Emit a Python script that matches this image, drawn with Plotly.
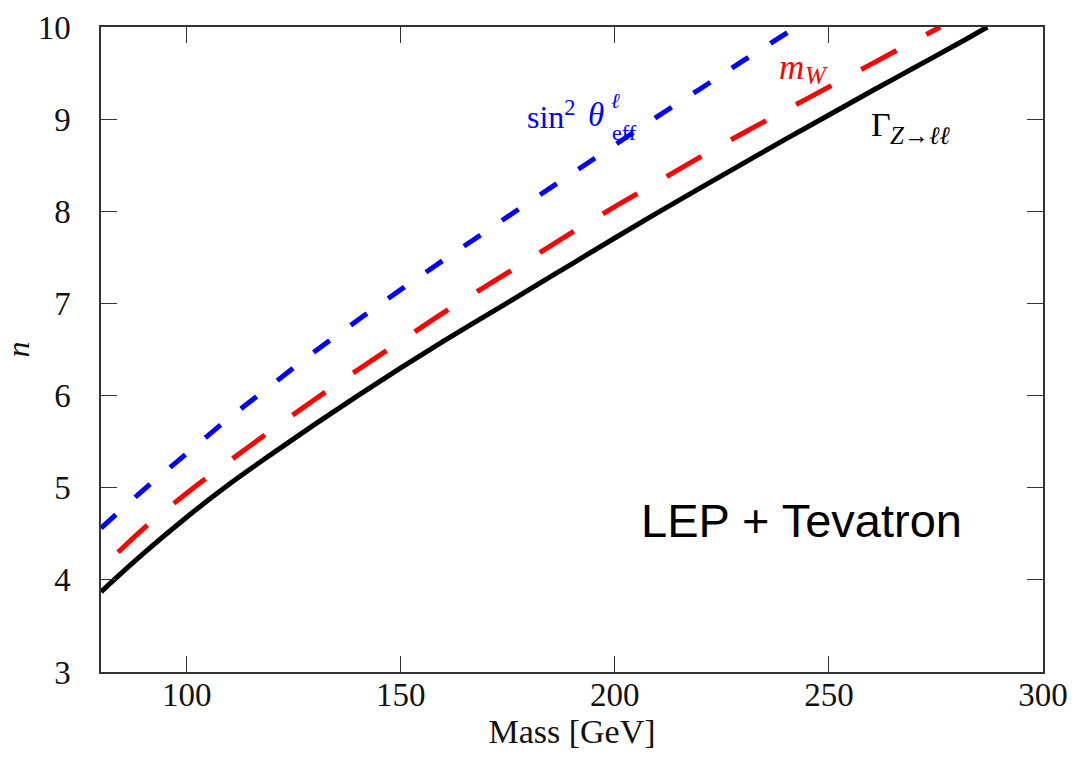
import plotly.graph_objects as go

# Mass grid [GeV] and n values for each observable
mass_gamma = [80, 90, 100, 110, 120, 130, 140, 150, 160, 170, 180, 190, 200,
              210, 220, 230, 240, 250, 260, 270, 280, 287]
n_gamma = [3.87, 4.29, 4.68, 5.04, 5.37, 5.69, 6.00, 6.30, 6.59, 6.87, 7.15,
           7.43, 7.71, 7.985, 8.255, 8.52, 8.785, 9.045, 9.305, 9.56, 9.815,
           10.0]

mass_mw = [84, 90, 100, 110, 120, 130, 140, 150, 160, 170, 180, 190, 200,
           210, 220, 230, 240, 250, 260, 270, 276]
n_mw = [4.30, 4.56, 4.94, 5.29, 5.63, 5.96, 6.28, 6.59, 6.90, 7.19, 7.48,
        7.77, 8.05, 8.32, 8.59, 8.85, 9.10, 9.35, 9.60, 9.85, 10.0]

mass_sin = [80, 90, 100, 110, 120, 130, 140, 150, 160, 170, 180, 190, 200,
            210, 220, 230, 242.4]
n_sin = [4.56, 4.98, 5.37, 5.76, 6.12, 6.48, 6.82, 7.15, 7.47, 7.785, 8.10,
         8.41, 8.72, 9.03, 9.33, 9.635, 10.0]

x_ticks = [100, 150, 200, 250, 300]
y_ticks = [3, 4, 5, 6, 7, 8, 9, 10]

SERIF = "Liberation Serif, DejaVu Serif, serif"
SANS = "Liberation Sans, Arial, sans-serif"
AXIS_COLOR = "#333333"

fig = go.Figure()

curve = dict(mode="lines", hoverinfo="skip")
fig.add_trace(go.Scatter(x=mass_sin, y=n_sin,
                         line=dict(color="#0000ff", width=5, dash="20px,26px",
                                   shape="spline", smoothing=1.0), **curve))
fig.add_trace(go.Scatter(x=mass_mw, y=n_mw,
                         line=dict(color="#ff0000", width=5, dash="40px,34px",
                                   shape="spline", smoothing=1.0), **curve))
fig.add_trace(go.Scatter(x=mass_gamma, y=n_gamma,
                         line=dict(color="#000000", width=5,
                                   shape="spline", smoothing=1.0), **curve))

axis_common = dict(
    showline=True, linecolor=AXIS_COLOR, linewidth=1.5, mirror="ticks",
    ticks="inside", ticklen=16, tickwidth=1, tickcolor=AXIS_COLOR,
    showgrid=False, zeroline=False, automargin=False,
    tickfont=dict(family=SERIF, size=33, color="#111111"),
)

fig.update_xaxes(range=[80, 300], tickvals=x_ticks, ticklabelstandoff=-7,
                 title=dict(text="Mass [GeV]", standoff=0,
                            font=dict(family=SERIF, size=34, color="#111111")),
                 **axis_common)
fig.update_yaxes(range=[3, 10], tickvals=y_ticks, ticklabelstandoff=22,
                 title=dict(text="<i>n</i>", standoff=6,
                            font=dict(family=SERIF, size=32, color="#111111")),
                 **axis_common)

BLUE = "#0000ff"
annotations = [
    # sin^2 theta_eff^l label
    dict(x=179.0, y=9.05, text="sin<sup>2</sup>", xanchor="left",
         yanchor="middle", font=dict(family=SERIF, size=32, color=BLUE)),
    dict(x=195.5, y=9.05, text="<i>θ</i>", xanchor="center", yanchor="middle",
         font=dict(family=SERIF, size=33, color=BLUE)),
    dict(x=198.7, y=9.20, text="<i>ℓ</i>", xanchor="left", yanchor="middle",
         font=dict(family=SERIF, size=21, color=BLUE)),
    dict(x=198.9, y=8.86, text="eff", xanchor="left", yanchor="middle",
         font=dict(family=SERIF, size=22, color=BLUE)),
    # m_W label
    dict(x=237.8, y=9.56, text="<i>m</i>", xanchor="left", yanchor="middle",
         font=dict(family=SERIF, size=35, color="#ff0000")),
    dict(x=244.0, y=9.47, text="<i>W</i>", xanchor="left", yanchor="middle",
         font=dict(family=SERIF, size=25, color="#ff0000")),
    # Gamma_Z->ll label
    dict(x=259.3, y=8.94, text="Γ", xanchor="left", yanchor="middle",
         font=dict(family=SERIF, size=34, color="#000000")),
    dict(x=263.7, y=8.82, text="<i>Z</i>→<i>ℓℓ</i>", xanchor="left",
         yanchor="middle", font=dict(family=SERIF, size=25, color="#000000")),
    # dataset label
    dict(x=243.6, y=4.64, text="LEP + Tevatron", xanchor="center",
         yanchor="middle", font=dict(family=SANS, size=47, color="#000000")),
]
for a in annotations:
    a.update(xref="x", yref="y", showarrow=False)

fig.update_layout(
    width=1072, height=757,
    margin=dict(l=101, r=29, t=27, b=85),
    paper_bgcolor="white", plot_bgcolor="white",
    showlegend=False,
    annotations=annotations,
)

fig.write_html("out.html")
